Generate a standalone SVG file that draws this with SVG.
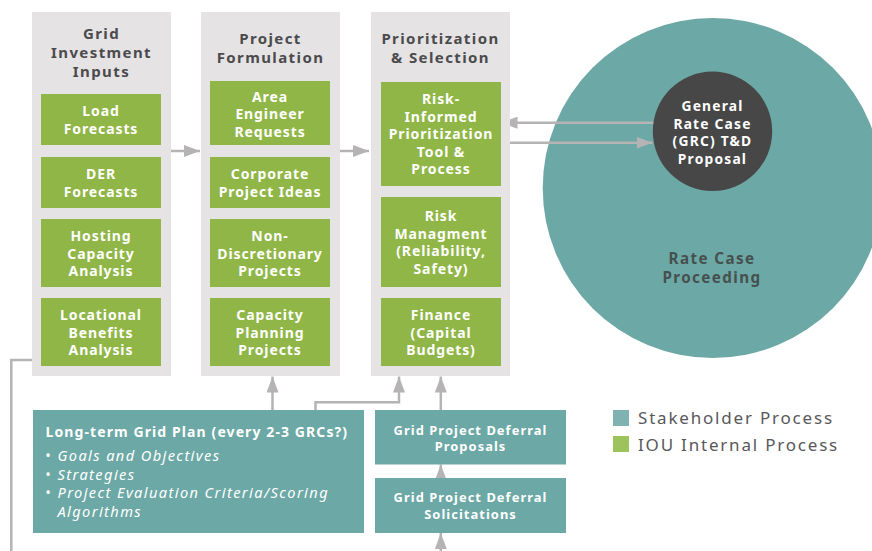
<svg xmlns="http://www.w3.org/2000/svg" width="872" height="551" viewBox="0 0 872 551">
  <style>
    .col { fill: #e5e3e4; }
    .green { fill: #8fb646; }
    .teal { fill: #6ca8a5; }
    text { font-family: "Noto Sans", "Liberation Sans", sans-serif; }
    .hdr { font-weight: 700; font-size: 15px; letter-spacing: 1.4px; fill: #4b4b4d; text-anchor: middle; }
    .gt { font-weight: 700; font-size: 14px; letter-spacing: 0.9px; fill: #ffffff; text-anchor: middle; }
    .dt { font-weight: 700; font-size: 13.8px; letter-spacing: 1.2px; fill: #ffffff; text-anchor: middle; }
    .tt { font-weight: 700; font-size: 12.9px; letter-spacing: 1.05px; fill: #ffffff; text-anchor: middle; }
    .lt { font-weight: 700; font-size: 14px; letter-spacing: 1.1px; fill: #ffffff; }
    .it { font-style: italic; font-size: 14.6px; letter-spacing: 1.4px; fill: #ffffff; }
    .rc { font-weight: 700; font-size: 15.2px; letter-spacing: 1.4px; fill: #46504f; text-anchor: middle; }
    .lg { font-size: 17px; letter-spacing: 1.8px; fill: #58585a; }
    .conn { fill: none; stroke: #b5b3b3; stroke-width: 2.5; }
  </style>
  <defs>
    <marker id="ah" markerWidth="16" markerHeight="12" refX="16" refY="6" orient="auto" markerUnits="userSpaceOnUse">
      <path d="M0,0 L16,6 L0,12 z" fill="#b5b3b3"/>
    </marker>
  </defs>

  <!-- Rate case circle -->
  <g id="rate-case">
    <circle cx="712.7" cy="188" r="170" class="teal"/>
    <text class="rc" y="264"><tspan x="712">Rate Case</tspan><tspan x="712" dy="19">Proceeding</tspan></text>
  </g>

  <!-- Connectors -->
  <g id="connectors">
    <path class="conn" d="M168,151 H200" marker-end="url(#ah)"/>
    <path class="conn" d="M337,151 H369" marker-end="url(#ah)"/>
    <path class="conn" d="M654,122.7 H501.5" marker-end="url(#ah)"/>
    <path class="conn" d="M501,142.7 H652.5" marker-end="url(#ah)"/>
    <path class="conn" d="M272.5,410 V376.5" marker-end="url(#ah)"/>
    <path class="conn" d="M315.5,410 V402.3 H399 V376.5" marker-end="url(#ah)"/>
    <path class="conn" d="M440.8,410 V376.5" marker-end="url(#ah)"/>
    <path class="conn" d="M440.8,479 V464.5" marker-end="url(#ah)"/>
    <path class="conn" d="M440.8,553 V533" marker-end="url(#ah)"/>
    <path class="conn" d="M32,360 H11.3 V553"/>
  </g>

  <!-- Column: Grid Investment Inputs -->
  <g id="grid-investment-inputs">
    <rect class="col" x="32" y="12" width="139" height="364"/>
    <text class="hdr" y="39"><tspan x="101.5">Grid</tspan><tspan x="101.5" dy="19">Investment</tspan><tspan x="101.5" dy="19">Inputs</tspan></text>
  </g>
  <g id="load-forecasts">
    <rect class="green" x="41" y="94" width="120" height="51"/>
    <text class="gt" y="116"><tspan x="101">Load</tspan><tspan x="101" dy="18">Forecasts</tspan></text>
  </g>
  <g id="der-forecasts">
    <rect class="green" x="41" y="157" width="120" height="51"/>
    <text class="gt" y="179"><tspan x="101">DER</tspan><tspan x="101" dy="18">Forecasts</tspan></text>
  </g>
  <g id="hosting-capacity">
    <rect class="green" x="41" y="219" width="120" height="68"/>
    <text class="gt" y="241"><tspan x="101">Hosting</tspan><tspan x="101" dy="17.5">Capacity</tspan><tspan x="101" dy="17.5">Analysis</tspan></text>
  </g>
  <g id="locational-benefits">
    <rect class="green" x="41" y="298" width="120" height="68"/>
    <text class="gt" y="320"><tspan x="101">Locational</tspan><tspan x="101" dy="17.5">Benefits</tspan><tspan x="101" dy="17.5">Analysis</tspan></text>
  </g>

  <!-- Column: Project Formulation -->
  <g id="project-formulation">
    <rect class="col" x="201" y="12" width="139" height="364"/>
    <text class="hdr" y="44"><tspan x="270.5">Project</tspan><tspan x="270.5" dy="19">Formulation</tspan></text>
  </g>
  <g id="area-engineer-requests">
    <rect class="green" x="210" y="81" width="120" height="64"/>
    <text class="gt" y="101.5"><tspan x="270">Area</tspan><tspan x="270" dy="17.5">Engineer</tspan><tspan x="270" dy="17.5">Requests</tspan></text>
  </g>
  <g id="corporate-project-ideas">
    <rect class="green" x="210" y="157" width="120" height="51"/>
    <text class="gt" y="179"><tspan x="270">Corporate</tspan><tspan x="270" dy="18">Project Ideas</tspan></text>
  </g>
  <g id="non-discretionary">
    <rect class="green" x="210" y="219" width="120" height="68"/>
    <text class="gt" y="241"><tspan x="270">Non-</tspan><tspan x="270" dy="17.5">Discretionary</tspan><tspan x="270" dy="17.5">Projects</tspan></text>
  </g>
  <g id="capacity-planning">
    <rect class="green" x="210" y="298" width="120" height="68"/>
    <text class="gt" y="320"><tspan x="270">Capacity</tspan><tspan x="270" dy="17.5">Planning</tspan><tspan x="270" dy="17.5">Projects</tspan></text>
  </g>

  <!-- Column: Prioritization & Selection -->
  <g id="prioritization-selection">
    <rect class="col" x="371" y="12" width="139" height="364"/>
    <text class="hdr" y="44"><tspan x="440.5">Prioritization</tspan><tspan x="440.5" dy="19">&amp; Selection</tspan></text>
  </g>
  <g id="risk-informed-tool">
    <rect class="green" x="381" y="82" width="120" height="104"/>
    <text class="gt" y="104"><tspan x="441">Risk-</tspan><tspan x="441" dy="17.5">Informed</tspan><tspan x="441" dy="17.5">Prioritization</tspan><tspan x="441" dy="17.5">Tool &amp;</tspan><tspan x="441" dy="17.5">Process</tspan></text>
  </g>
  <g id="risk-management">
    <rect class="green" x="381" y="197" width="120" height="90"/>
    <text class="gt" y="221"><tspan x="441">Risk</tspan><tspan x="441" dy="17.5">Managment</tspan><tspan x="441" dy="17.5">(Reliability,</tspan><tspan x="441" dy="17.5">Safety)</tspan></text>
  </g>
  <g id="finance">
    <rect class="green" x="381" y="298" width="120" height="68"/>
    <text class="gt" y="320"><tspan x="441">Finance</tspan><tspan x="441" dy="17.5">(Capital</tspan><tspan x="441" dy="17.5">Budgets)</tspan></text>
  </g>

  <!-- GRC proposal -->
  <g id="grc-proposal">
    <circle cx="712.5" cy="131.3" r="59.7" fill="#474747"/>
    <text class="dt" y="111"><tspan x="712.5">General</tspan><tspan x="712.5" dy="17.5">Rate Case</tspan><tspan x="712.5" dy="17.5">(GRC) T&amp;D</tspan><tspan x="712.5" dy="17.5">Proposal</tspan></text>
  </g>

  <!-- Long-term plan -->
  <g id="long-term-grid-plan">
    <rect class="teal" x="33" y="410" width="331" height="123"/>
    <text class="lt" x="45.5" y="437">Long-term Grid Plan (every 2-3 GRCs?)</text>
    <text class="it" y="461"><tspan x="45">•</tspan><tspan x="45" dy="18.5">•</tspan><tspan x="45" dy="18.5">•</tspan></text>
    <text class="it" y="461"><tspan x="57.5">Goals and Objectives</tspan><tspan x="57.5" dy="18.5">Strategies</tspan><tspan x="57.5" dy="18.5">Project Evaluation Criteria/Scoring</tspan><tspan x="57.5" dy="18.5">Algorithms</tspan></text>
  </g>

  <!-- Deferral boxes -->
  <g id="deferral-proposals">
    <rect class="teal" x="375" y="410" width="191" height="54.5"/>
    <text class="tt" y="434.6"><tspan x="470.5">Grid Project Deferral</tspan><tspan x="470.5" dy="16.6">Proposals</tspan></text>
  </g>
  <g id="deferral-solicitations">
    <rect class="teal" x="375" y="478" width="191" height="55"/>
    <text class="tt" y="502.4"><tspan x="470.5">Grid Project Deferral</tspan><tspan x="470.5" dy="16.6">Solicitations</tspan></text>
  </g>

  <!-- Legend -->
  <g id="legend">
    <rect x="613" y="410" width="16" height="16" fill="#7fb2b0"/>
    <text class="lg" x="638" y="423.5">Stakeholder Process</text>
    <rect x="613" y="436" width="16" height="16" fill="#9dc35d"/>
    <text class="lg" x="638" y="451">IOU Internal Process</text>
  </g>
</svg>
